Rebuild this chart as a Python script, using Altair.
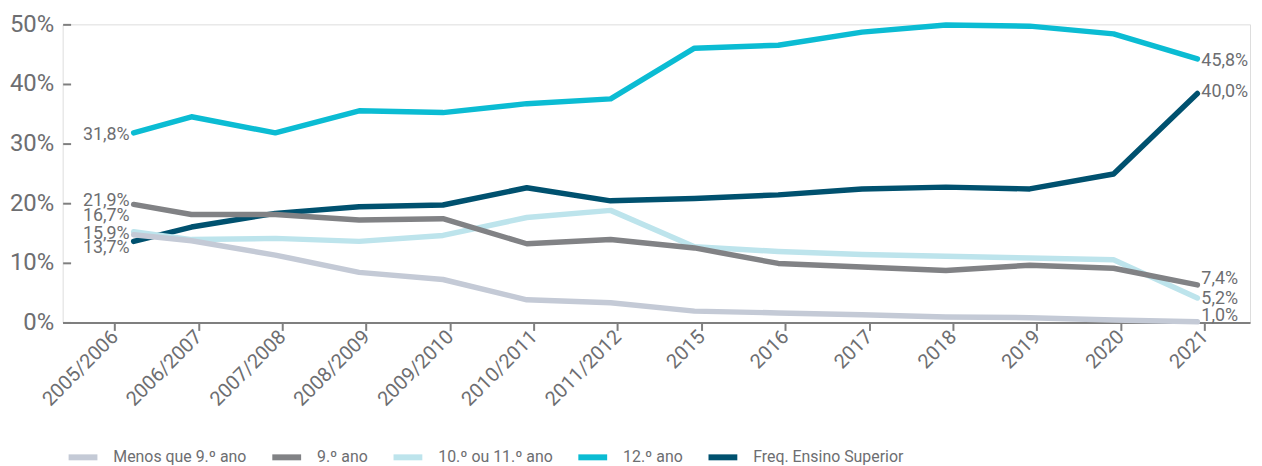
import altair as alt
import pandas as pd

years = ["2005/2006", "2006/2007", "2007/2008", "2008/2009", "2009/2010",
         "2010/2011", "2011/2012", "2015", "2016", "2017", "2018", "2019",
         "2020", "2021"]

series_names = ["Menos que 9.º ano", "9.º ano", "10.º ou 11.º ano", "12.º ano",
                "Freq. Ensino Superior"]
series_colors = ["#c4cad6", "#818285", "#bde4ec", "#0bbcd3", "#00516f"]

menos_9 = [14.7, 13.7, 11.3, 8.4, 7.2, 3.8, 3.3, 1.9, 1.6, 1.3, 0.9, 0.8, 0.4, 0.1]
ano_9 = [19.8, 18.1, 18.1, 17.2, 17.4, 13.2, 13.9, 12.5, 9.9, 9.3, 8.7, 9.6, 9.1, 6.3]
ano_10_11 = [15.2, 13.9, 14.1, 13.6, 14.6, 17.6, 18.8, 12.7, 11.9, 11.4, 11.1, 10.8, 10.5, 4.1]
ano_12 = [31.8, 34.5, 31.8, 35.5, 35.2, 36.7, 37.5, 46.0, 46.5, 48.7, 49.9, 49.7, 48.4, 44.2]
freq_sup = [13.6, 16.0, 18.3, 19.4, 19.7, 22.6, 20.4, 20.8, 21.4, 22.4, 22.7, 22.4, 24.9, 38.4]

# text labels printed beside the line ends (text, vertical position in %)
left_labels = ["31,8%", "21,9%", "16,7%", "15,9%", "13,7%"]
left_label_pos = [31.4, 20.3, 17.8, 14.9, 12.4]
right_labels = ["45,8%", "40,0%", "7,4%", "5,2%", "1,0%"]
right_label_pos = [43.9, 38.7, 7.3, 3.9, 1.0]

y_ticks = [0, 10, 20, 30, 40, 50]

# Layout quirks of the original drawing (style, not data):
FIRST_POINT_SHIFT = 0.31   # first vertex drawn a bit to the right of its tick
TICK_SHIFT = 0.083         # ticks sit slightly right of the vertices

draw_order = ["Freq. Ensino Superior", "12.º ano", "10.º ou 11.º ano", "9.º ano",
              "Menos que 9.º ano"]
values = {
    "Menos que 9.º ano": menos_9,
    "9.º ano": ano_9,
    "10.º ou 11.º ano": ano_10_11,
    "12.º ano": ano_12,
    "Freq. Ensino Superior": freq_sup,
}


def xpos(i):
    return FIRST_POINT_SHIFT if i == 0 else float(i)


rows = []
for s in draw_order:
    for i, v in enumerate(values[s]):
        rows.append({"ano": years[i], "x": xpos(i), "valor": v, "serie": s})
df = pd.DataFrame(rows)

left_df = pd.DataFrame({"x": [xpos(0)] * len(left_labels), "pos": left_label_pos,
                        "txt": left_labels})
right_df = pd.DataFrame({"x": [xpos(len(years) - 1)] * len(right_labels),
                         "pos": right_label_pos, "txt": right_labels})

FONT = "Roboto"
GREY = "#6d6e71"
AXIS_GREY = "#7f7f7f"

tick_vals = [i + TICK_SHIFT for i in range(len(years))]
label_array = "[" + ",".join("'" + y + "'" for y in years) + "]"

x_scale = alt.Scale(domain=[-0.537, 13.628], nice=False, zero=False)
y_scale = alt.Scale(domain=[0, 50], nice=False)

x_enc = alt.X("x:Q", scale=x_scale,
              axis=alt.Axis(title=None, values=tick_vals,
                            labelExpr=label_array + "[round(datum.value)]",
                            labelAngle=315, labelFontSize=20, labelColor=GREY,
                            labelFont=FONT, domainColor=AXIS_GREY, domainWidth=2,
                            tickColor=AXIS_GREY, tickWidth=2, tickSize=8,
                            labelPadding=3, labelAlign="right",
                            labelBaseline="middle", grid=False,
                            labelOverlap=False, labelFlush=False))

lines = alt.Chart(df).mark_line(strokeWidth=5.5, strokeCap="round",
                                strokeJoin="round").encode(
    x=x_enc,
    y=alt.Y("valor:Q", scale=y_scale,
            axis=alt.Axis(title=None, values=y_ticks, format=".0f",
                          labelExpr="datum.label + '%'", labelFontSize=24,
                          labelColor=GREY, labelFont=FONT, domain=False,
                          grid=False, tickColor=AXIS_GREY, tickWidth=2,
                          tickSize=8, offset=-8, labelPadding=9)),
    color=alt.Color("serie:N", scale=alt.Scale(domain=series_names, range=series_colors),
                    legend=alt.Legend(title=None, orient="none", direction="horizontal",
                                      legendX=3, legendY=418, symbolType="stroke",
                                      symbolSize=841, symbolStrokeWidth=6,
                                      labelFontSize=16, labelFont=FONT,
                                      labelColor=GREY, labelOffset=13,
                                      columnPadding=13, symbolOpacity=1)),
    detail="serie:N",
    order="x:Q",
)

left_text = alt.Chart(left_df).mark_text(align="right", baseline="middle", dx=-4,
                                         fontSize=18, font=FONT, color=GREY).encode(
    x=alt.X("x:Q", scale=x_scale),
    y=alt.Y("pos:Q", scale=y_scale),
    text="txt:N",
)
right_text = alt.Chart(right_df).mark_text(align="left", baseline="middle", dx=4,
                                           fontSize=18, font=FONT, color=GREY).encode(
    x=alt.X("x:Q", scale=x_scale),
    y=alt.Y("pos:Q", scale=y_scale),
    text="txt:N",
)

chart = alt.layer(lines, left_text, right_text).properties(
    width=1195, height=300,
    autosize=alt.AutoSizeParams(type="none"),
    padding={"left": 55, "top": 15, "right": 4, "bottom": 143},
).configure_view(stroke=None).configure(background="white")

chart.save("out.html", embed_options={"renderer": "svg", "actions": False})
